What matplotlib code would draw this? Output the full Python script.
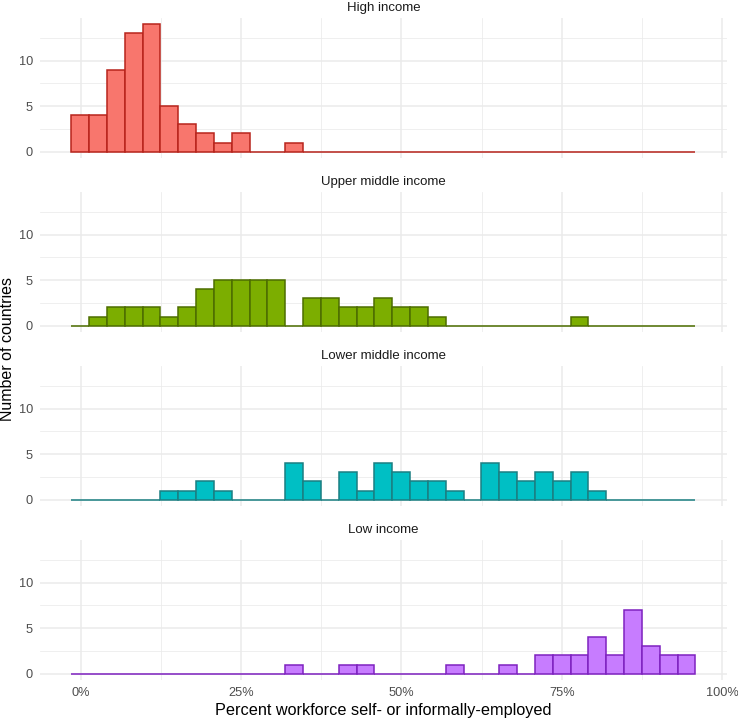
import matplotlib
matplotlib.use("Agg")
import matplotlib.pyplot as plt
import numpy as np
from matplotlib.ticker import FuncFormatter, MultipleLocator

plt.rcParams['font.family'] = ['Liberation Sans', 'DejaVu Sans']

# ---- data ----
panels = ["High income", "Upper middle income", "Lower middle income", "Low income"]
bin_start = -1.45   # percent, left edge of first bin
bin_width = 2.78    # percent
n_bins = 35

counts_high = [4, 4, 9, 13, 14, 5, 3, 2, 1, 2, 0, 0, 1, 0, 0, 0, 0, 0, 0, 0,
               0, 0, 0, 0, 0, 0, 0, 0, 0, 0, 0, 0, 0, 0, 0]
counts_upper = [0, 1, 2, 2, 2, 1, 2, 4, 5, 5, 5, 5, 0, 3, 3, 2, 2, 3, 2, 2,
                1, 0, 0, 0, 0, 0, 0, 0, 1, 0, 0, 0, 0, 0, 0]
counts_lower = [0, 0, 0, 0, 0, 1, 1, 2, 1, 0, 0, 0, 4, 2, 0, 3, 1, 4, 3, 2,
                2, 1, 0, 4, 3, 2, 3, 2, 3, 1, 0, 0, 0, 0, 0]
counts_low = [0, 0, 0, 0, 0, 0, 0, 0, 0, 0, 0, 0, 1, 0, 0, 1, 1, 0, 0, 0,
              0, 1, 0, 0, 1, 0, 2, 2, 2, 4, 2, 7, 3, 2, 2]
all_counts = [counts_high, counts_upper, counts_lower, counts_low]

fills = ["#F8766D", "#7CAE00", "#00BFC4", "#C77CFF"]
edges = ["#B8241C", "#4D6D00", "#1B7F82", "#7E22C0"]

x_ticks = [0, 25, 50, 75, 100]
y_ticks = [0, 5, 10]

# ---- layout ----
W, H = 738, 719
fig = plt.figure(figsize=(W / 100, H / 100), dpi=100)

left_px, right_px = 40, 726.7
panel_tops = [18, 192, 366, 540]
panel_h = 140

lefts = bin_start + bin_width * np.arange(n_bins)
ymax = max(max(c) for c in all_counts)
x_lo = bin_start
x_hi = bin_start + bin_width * n_bins
xr = x_hi - x_lo

grid_col = "#EBEBEB"
axes = []
for i, (name, counts) in enumerate(zip(panels, all_counts)):
    top = panel_tops[i]
    ax = fig.add_axes([left_px / W, 1 - (top + panel_h) / H,
                       (right_px - left_px) / W, panel_h / H])
    axes.append(ax)
    ax.bar(lefts, counts, width=bin_width, align='edge',
           color=fills[i], edgecolor=edges[i], linewidth=1.1, zorder=3)
    ax.set_xlim(x_lo - 0.05 * xr, x_hi + 0.05 * xr)
    ax.set_ylim(-0.05 * ymax, ymax * 1.05)
    ax.xaxis.set_major_locator(MultipleLocator(25))
    ax.xaxis.set_minor_locator(MultipleLocator(12.5))
    ax.yaxis.set_major_locator(MultipleLocator(5))
    ax.yaxis.set_minor_locator(MultipleLocator(2.5))
    ax.grid(which='major', color=grid_col, linewidth=1.1, zorder=0)
    ax.grid(which='minor', color=grid_col, linewidth=0.55, zorder=0)
    ax.set_axisbelow(True)
    for s in ax.spines.values():
        s.set_visible(False)
    ax.tick_params(which='both', length=0, labelsize=9.2, colors="#4D4D4D", pad=5)
    ax.set_yticks(y_ticks)
    ax.set_xticks(x_ticks)
    if i < 3:
        ax.tick_params(axis='x', labelbottom=False)
    else:
        ax.xaxis.set_major_formatter(FuncFormatter(lambda v, p: f"{v:.0f}%"))
    ax.set_title(name, fontsize=9.5, color="#1A1A1A", pad=5)

fig.text((left_px + right_px) / 2 / W, 1 - 711 / H,
         "Percent workforce self- or informally-employed",
         ha='center', va='center', fontsize=11.7, color="black")
fig.text(8 / W, 1 - 349 / H, "Number of countries", rotation=90,
         ha='center', va='center', fontsize=11.5, color="black")

fig.savefig("out.png", dpi=100)
